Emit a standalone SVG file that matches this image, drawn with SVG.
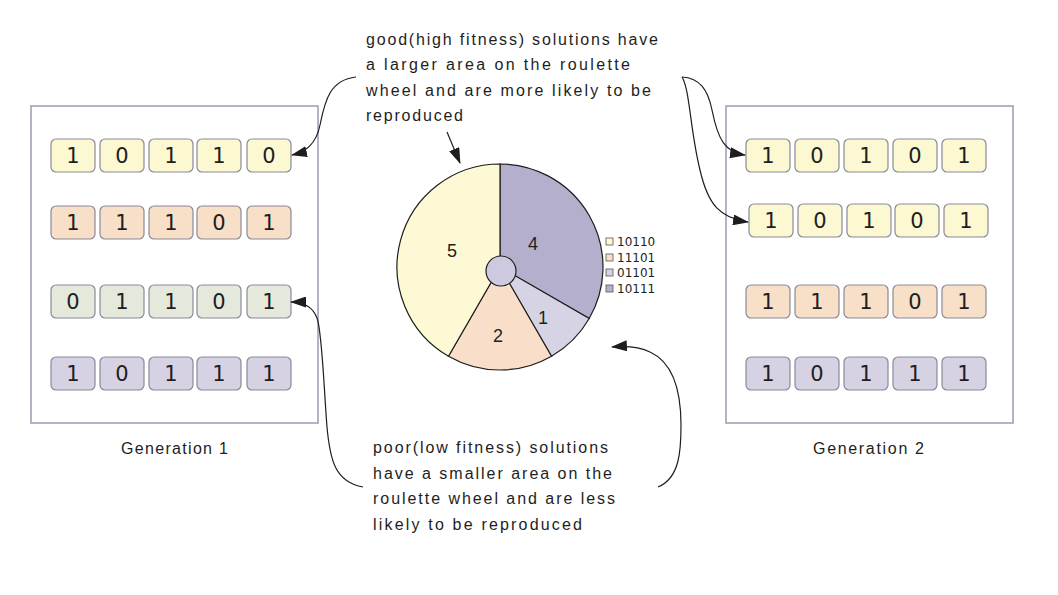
<svg xmlns="http://www.w3.org/2000/svg" width="1058" height="595" viewBox="0 0 1058 595">
<defs>
<style>
.frame{fill:#ffffff;stroke:#9b9bb3;stroke-width:1.5}
.cell{stroke:#8a8a98;stroke-width:1.2}
.y{fill:#fcf8d2}.p{fill:#f8dfc8}.g{fill:#e5e9dc}.l{fill:#d6d2e3}
.d{font-family:"DejaVu Sans",Verdana,sans-serif;font-size:21px;fill:#1e1e1e;text-anchor:middle}
.hand{font-family:"Liberation Sans",Arial,sans-serif;font-size:16px;fill:#1e1e1e}
.pl{font-family:"Liberation Sans",Arial,sans-serif;font-size:18px;fill:#1e1e1e;text-anchor:middle}
.lg{font-family:"DejaVu Sans",Tahoma,sans-serif;font-size:12px;fill:#1e1e1e}
.conn{fill:none;stroke:#1e1e1e;stroke-width:1.2}
.sl{stroke:#1e1e1e;stroke-width:1.2}
</style>
<marker id="ah" viewBox="0 0 16 11" refX="15" refY="5.5" markerWidth="16" markerHeight="11" markerUnits="userSpaceOnUse" orient="auto">
<path d="M0,0 L16,5.5 L0,11 Z" fill="#1e1e1e"/>
</marker>
</defs>
<rect width="1058" height="595" fill="#ffffff"/>

<g id="generation1">
<rect class="frame" x="31" y="106" width="287" height="317"/>
<g id="g1-row1">
<rect class="cell y" x="51" y="139" width="44" height="33" rx="5"/><rect class="cell y" x="100" y="139" width="44" height="33" rx="5"/><rect class="cell y" x="149" y="139" width="44" height="33" rx="5"/><rect class="cell y" x="197" y="139" width="44" height="33" rx="5"/><rect class="cell y" x="247" y="139" width="44" height="33" rx="5"/>
<text class="d" x="73" y="163">1</text><text class="d" x="122" y="163">0</text><text class="d" x="171" y="163">1</text><text class="d" x="219" y="163">1</text><text class="d" x="269" y="163">0</text>
</g>
<g id="g1-row2">
<rect class="cell p" x="51" y="206" width="44" height="33" rx="5"/><rect class="cell p" x="100" y="206" width="44" height="33" rx="5"/><rect class="cell p" x="149" y="206" width="44" height="33" rx="5"/><rect class="cell p" x="197" y="206" width="44" height="33" rx="5"/><rect class="cell p" x="247" y="206" width="44" height="33" rx="5"/>
<text class="d" x="73" y="230">1</text><text class="d" x="122" y="230">1</text><text class="d" x="171" y="230">1</text><text class="d" x="219" y="230">0</text><text class="d" x="269" y="230">1</text>
</g>
<g id="g1-row3">
<rect class="cell g" x="51" y="285" width="44" height="33" rx="5"/><rect class="cell g" x="100" y="285" width="44" height="33" rx="5"/><rect class="cell g" x="149" y="285" width="44" height="33" rx="5"/><rect class="cell g" x="197" y="285" width="44" height="33" rx="5"/><rect class="cell g" x="247" y="285" width="44" height="33" rx="5"/>
<text class="d" x="73" y="309">0</text><text class="d" x="122" y="309">1</text><text class="d" x="171" y="309">1</text><text class="d" x="219" y="309">0</text><text class="d" x="269" y="309">1</text>
</g>
<g id="g1-row4">
<rect class="cell l" x="51" y="357" width="44" height="33" rx="5"/><rect class="cell l" x="100" y="357" width="44" height="33" rx="5"/><rect class="cell l" x="149" y="357" width="44" height="33" rx="5"/><rect class="cell l" x="197" y="357" width="44" height="33" rx="5"/><rect class="cell l" x="247" y="357" width="44" height="33" rx="5"/>
<text class="d" x="73" y="381">1</text><text class="d" x="122" y="381">0</text><text class="d" x="171" y="381">1</text><text class="d" x="219" y="381">1</text><text class="d" x="269" y="381">1</text>
</g>
<text class="hand" x="121" y="454" textLength="107" lengthAdjust="spacing">Generation 1</text>
</g>

<g id="generation2">
<rect class="frame" x="726" y="106" width="287" height="317"/>
<g id="g2-row1">
<rect class="cell y" x="746" y="139" width="44" height="33" rx="5"/><rect class="cell y" x="795" y="139" width="44" height="33" rx="5"/><rect class="cell y" x="844" y="139" width="44" height="33" rx="5"/><rect class="cell y" x="893" y="139" width="44" height="33" rx="5"/><rect class="cell y" x="942" y="139" width="44" height="33" rx="5"/>
<text class="d" x="768" y="163">1</text><text class="d" x="817" y="163">0</text><text class="d" x="866" y="163">1</text><text class="d" x="915" y="163">0</text><text class="d" x="964" y="163">1</text>
</g>
<g id="g2-row2">
<rect class="cell y" x="749" y="204" width="44" height="33" rx="5"/><rect class="cell y" x="798" y="204" width="44" height="33" rx="5"/><rect class="cell y" x="847" y="204" width="44" height="33" rx="5"/><rect class="cell y" x="895" y="204" width="44" height="33" rx="5"/><rect class="cell y" x="944" y="204" width="44" height="33" rx="5"/>
<text class="d" x="771" y="228">1</text><text class="d" x="820" y="228">0</text><text class="d" x="869" y="228">1</text><text class="d" x="917" y="228">0</text><text class="d" x="966" y="228">1</text>
</g>
<g id="g2-row3">
<rect class="cell p" x="746" y="285" width="44" height="33" rx="5"/><rect class="cell p" x="795" y="285" width="44" height="33" rx="5"/><rect class="cell p" x="844" y="285" width="44" height="33" rx="5"/><rect class="cell p" x="893" y="285" width="44" height="33" rx="5"/><rect class="cell p" x="942" y="285" width="44" height="33" rx="5"/>
<text class="d" x="768" y="309">1</text><text class="d" x="817" y="309">1</text><text class="d" x="866" y="309">1</text><text class="d" x="915" y="309">0</text><text class="d" x="964" y="309">1</text>
</g>
<g id="g2-row4">
<rect class="cell l" x="746" y="357" width="44" height="33" rx="5"/><rect class="cell l" x="795" y="357" width="44" height="33" rx="5"/><rect class="cell l" x="844" y="357" width="44" height="33" rx="5"/><rect class="cell l" x="893" y="357" width="44" height="33" rx="5"/><rect class="cell l" x="942" y="357" width="44" height="33" rx="5"/>
<text class="d" x="768" y="381">1</text><text class="d" x="817" y="381">0</text><text class="d" x="866" y="381">1</text><text class="d" x="915" y="381">1</text><text class="d" x="964" y="381">1</text>
</g>
<text class="hand" x="813" y="454" textLength="111" lengthAdjust="spacing">Generation 2</text>
</g>

<g id="roulette">
<path class="sl" fill="#b4afcc" d="M500,267 L500,164 A103,103 0 0 1 589.2,318.5 Z"/>
<path class="sl" fill="#d6d3e4" d="M500,267 L589.2,318.5 A103,103 0 0 1 551.5,356.2 Z"/>
<path class="sl" fill="#f9dfc9" d="M500,267 L551.5,356.2 A103,103 0 0 1 448.5,356.2 Z"/>
<path class="sl" fill="#fdf9d4" d="M500,267 L448.5,356.2 A103,103 0 0 1 500,164 Z"/>
<circle cx="501" cy="271" r="15" fill="#cdc9df" stroke="#1e1e1e" stroke-width="1.2"/>
<text class="pl" x="452" y="257">5</text>
<text class="pl" x="533" y="250">4</text>
<text class="pl" x="543" y="324">1</text>
<text class="pl" x="498" y="342">2</text>
</g>

<g id="legend">
<rect x="606" y="238" width="7" height="7" fill="#fdf9d4" stroke="#555" stroke-width="0.8"/>
<text class="lg" x="617" y="246">10110</text>
<rect x="606" y="254" width="7" height="7" fill="#f9dfc9" stroke="#555" stroke-width="0.8"/>
<text class="lg" x="617" y="262">11101</text>
<rect x="606" y="269" width="7" height="7" fill="#d6d3e4" stroke="#555" stroke-width="0.8"/>
<text class="lg" x="617" y="277">01101</text>
<rect x="606" y="285" width="7" height="7" fill="#b4afcc" stroke="#555" stroke-width="0.8"/>
<text class="lg" x="617" y="293">10111</text>
</g>

<g id="note-good">
<text class="hand" x="366" y="45" textLength="292" lengthAdjust="spacing">good(high fitness) solutions have</text>
<text class="hand" x="366" y="70" textLength="264" lengthAdjust="spacing">a larger area on the roulette</text>
<text class="hand" x="366" y="96" textLength="285" lengthAdjust="spacing">wheel and are more likely to be</text>
<text class="hand" x="366" y="121" textLength="97" lengthAdjust="spacing">reproduced</text>
</g>

<g id="note-poor">
<text class="hand" x="373" y="453" textLength="235" lengthAdjust="spacing">poor(low fitness) solutions</text>
<text class="hand" x="373" y="479" textLength="239" lengthAdjust="spacing">have a smaller area on the</text>
<text class="hand" x="373" y="504" textLength="242" lengthAdjust="spacing">roulette wheel and are less</text>
<text class="hand" x="373" y="530" textLength="209" lengthAdjust="spacing">likely to be reproduced</text>
</g>

<g id="connectors">
<path class="conn" marker-end="url(#ah)" d="M356,77 C330,80 325,100 320,125 C316,145 305,152 292,155"/>
<path class="conn" marker-end="url(#ah)" d="M447,132 L460,163"/>
<path class="conn" marker-end="url(#ah)" d="M682,77 C700,78 708,90 712,110 C718,140 725,152 745,155"/>
<path class="conn" marker-end="url(#ah)" d="M682,77 C690,90 690,130 700,170 C708,205 720,218 748,222"/>
<path class="conn" marker-end="url(#ah)" d="M363,487 C335,482 330,460 327,427 C324,390 322,330 317,318 C312,305 300,302 291,302"/>
<path class="conn" marker-end="url(#ah)" d="M658,487 C680,478 681,450 681,425 C681,390 672,362 650,352 C640,347 625,346 612,347"/>
</g>
</svg>
